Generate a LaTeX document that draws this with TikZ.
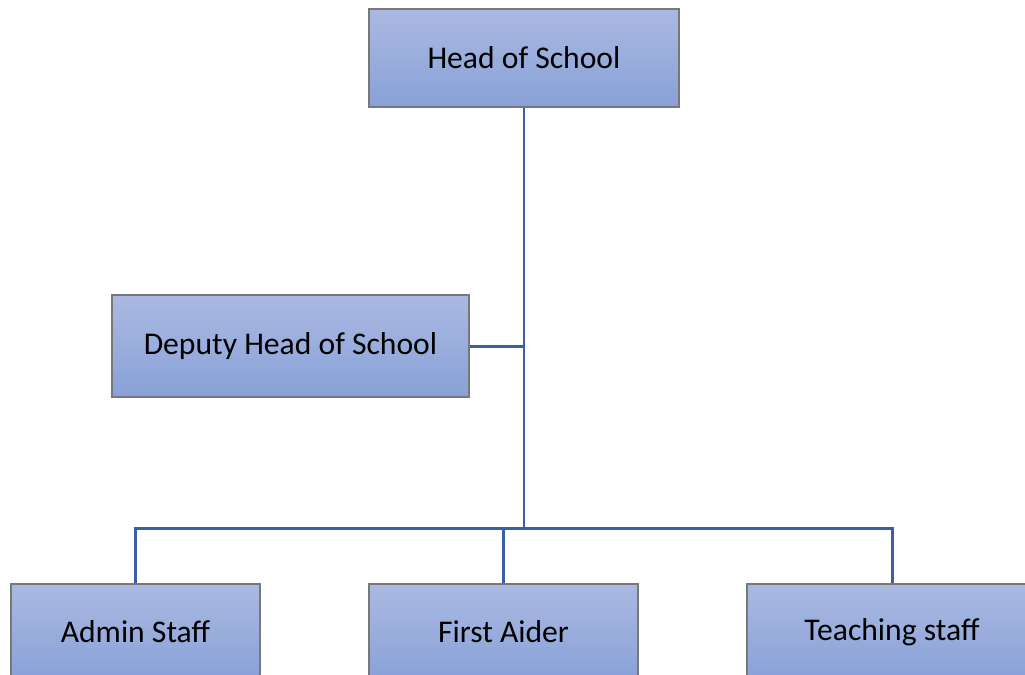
\documentclass[tikz,border=0pt]{standalone}
\usepackage{fontspec}
\setmainfont{Carlito}
\usepackage{tikz}
\usetikzlibrary{calc}

\definecolor{boxtop}{RGB}{170,185,225}
\definecolor{boxbot}{RGB}{137,161,216}
\definecolor{boxline}{RGB}{120,120,120}
\definecolor{linkblue}{RGB}{59,95,163}

\tikzset{
  rolebox/.style={draw=boxline, line width=0.6pt, top color=boxtop, bottom color=boxbot,
    inner sep=0pt, font=\fontsize{18}{21}\selectfont},
  link/.style={draw=linkblue, line width=1.7pt}
}

\begin{document}
\begin{tikzpicture}[x=0.02cm, y=-0.02cm]
      \useasboundingbox (0, 0) rectangle (1025, 674);
      \clip (0, 0) rectangle (1025, 674);

      \node[rolebox, minimum width=310*0.02cm, minimum height=98*0.02cm] (head) at (524, 58) {Head of School};
      \node[rolebox, minimum width=357*0.02cm, minimum height=102*0.02cm] (deputy) at (290.5, 346) {Deputy Head of School};
      \node[rolebox, minimum width=249*0.02cm, minimum height=96*0.02cm] (admin) at (135.5, 632) {Admin Staff};
      \node[rolebox, minimum width=269*0.02cm, minimum height=96*0.02cm] (aider) at (503.5, 632) {First Aider};
      \node[rolebox, minimum width=290*0.02cm, minimum height=96*0.02cm] (teach) at (892, 632) {Teaching staff};

      \coordinate (bus) at (524, 528);
      \coordinate (mid) at (524, 346);

      \draw[link] (head.south) -- (bus);
      \draw[link] (deputy.east) -- (mid);
      \draw[link] (admin.north) |- (bus) -| (teach.north);
      \draw[link] (aider.north) -- (aider.north |- bus);
    \end{tikzpicture}
\end{document}
